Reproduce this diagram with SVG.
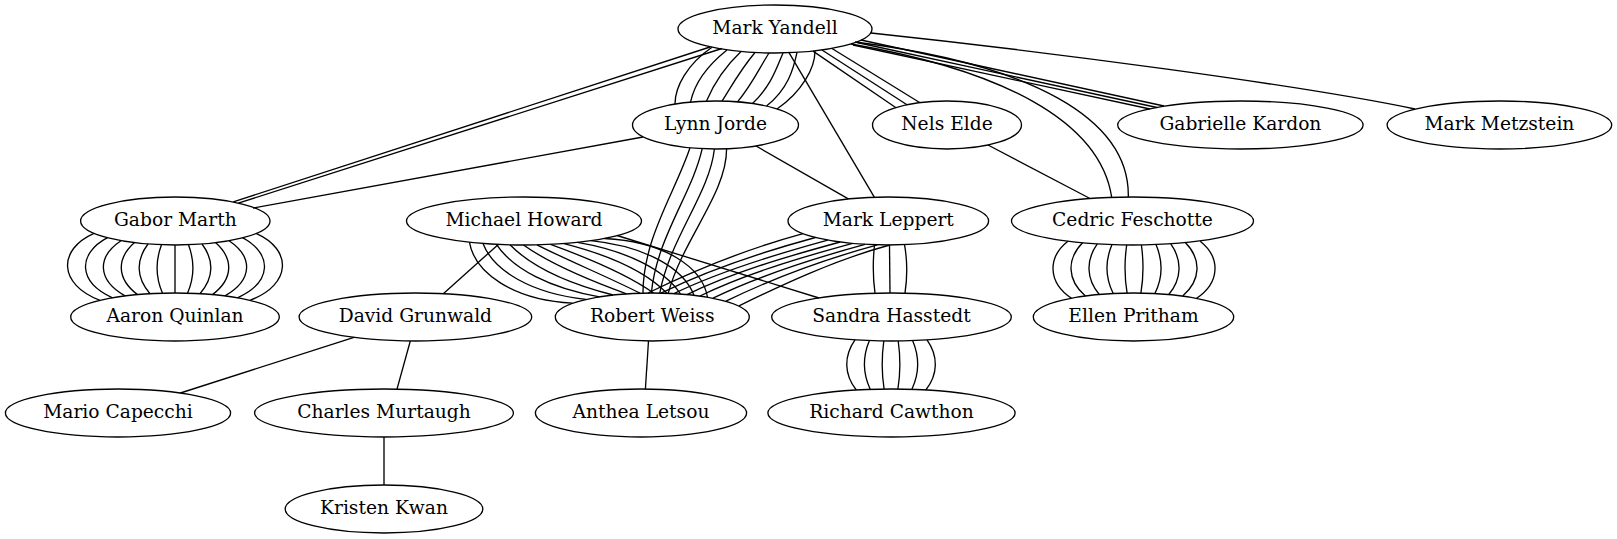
<svg xmlns="http://www.w3.org/2000/svg" width="1617" height="539" viewBox="0 0 1617 539">
<style>
.n ellipse{fill:none;stroke:#000;stroke-width:1.33}
.n text{font-family:"DejaVu Serif","Liberation Serif",serif;font-size:18.67px;text-anchor:middle;fill:#000}
#edges path{fill:none;stroke:#000;stroke-width:1.33}
</style>
<rect width="1617" height="539" fill="#fff"/>
<g id="edges">
<!-- Mark Yandell - Lynn Jorde x8 -->
<path d="M712,47.3 C687,64.3 675,87.1 675,104.1"/>
<path d="M727,49.9 C705.6,66.9 694.1,85.1 690.5,102.1"/>
<path d="M741,51.5 C723.1,68.5 713.6,84.1 706.5,101.1"/>
<path d="M755,52.5 C740.7,69.5 732.7,84.1 722,101.1"/>
<path d="M769,53 C758.3,70 751.8,84.9 737.5,101.9"/>
<path d="M783,52.9 C775.9,69.9 770.4,86.5 752.5,103.5"/>
<path d="M797,52.4 C793.4,69.4 787.9,89.1 766.5,106.1"/>
<path d="M815,50.9 C815,67.9 802,92 777,109"/>
<!-- Mark Yandell - Gabor Marth x2 -->
<path d="M710,47 L233.3,201.9"/>
<path d="M722,48.5 L238.3,203.1"/>
<!-- Mark Yandell - Mark Leppert -->
<path d="M789,52.7 L874.3,197.2"/>
<!-- Mark Yandell - Nels Elde x3 -->
<path d="M813,51.1 L896,107.7"/>
<path d="M822,50 L907,104.8"/>
<path d="M832,48.5 L920,102.7"/>
<!-- Mark Yandell - Gabrielle Kardon x3 -->
<path d="M861,40 L1164,106"/>
<path d="M857,42.5 L1157,107.5"/>
<path d="M853,45 L1150,109"/>
<!-- Mark Yandell - Cedric Feschotte x2 -->
<path d="M851,44 C1000,70 1100,120 1111.7,197.4"/>
<path d="M855,42 C1030,64 1130,118 1128.3,197"/>
<!-- Mark Yandell - Mark Metzstein -->
<path d="M871,33 C1050,52 1300,85 1415,109"/>
<!-- Nels Elde - Cedric Feschotte -->
<path d="M988,145 L1090,198.5"/>
<!-- Lynn Jorde - Gabor Marth -->
<path d="M643,137 L253,208"/>
<!-- Lynn Jorde - Mark Leppert -->
<path d="M756,146 L848.3,198.8"/>
<!-- Lynn Jorde - Robert Weiss x4 -->
<path d="M690,147.8 C675,192.8 643,238.1 643,293.1"/>
<path d="M702.2,148.7 C692.2,193.7 656.4,238 651.4,293"/>
<path d="M714.4,149 C709.4,194 669.8,238.1 659.8,293.1"/>
<path d="M726.6,148.8 C726.6,193.8 683.2,238.3 668.2,293.3"/>
<!-- Gabor Marth - Aaron Quinlan x13 -->
<path d="M94,233.3 C57.8,249.3 57.8,284.3 100,300.3"/>
<path d="M107.5,237.7 C77.4,253.7 77.4,281.8 112.5,297.8"/>
<path d="M121,240.7 C96.9,256.7 96.9,279.9 125,295.9"/>
<path d="M134.5,242.6 C116.4,258.6 116.4,278.6 137.5,294.6"/>
<path d="M148,244 C135.9,260 135.9,277.7 150,293.7"/>
<path d="M161.5,244.7 C155.5,260.7 155.5,277.2 162.5,293.2"/>
<path d="M175,245 L175,293"/>
<path d="M188.5,244.7 C194.5,260.7 194.5,277.2 187.5,293.2"/>
<path d="M202,244 C214.1,260 214.1,277.7 200,293.7"/>
<path d="M215.5,242.6 C233.6,258.6 233.6,278.6 212.5,294.6"/>
<path d="M229,240.7 C253.1,256.7 253.1,279.9 225,295.9"/>
<path d="M242.5,237.7 C272.6,253.7 272.6,281.8 237.5,297.8"/>
<path d="M256,233.3 C292.2,249.3 292.2,284.3 250,300.3"/>
<!-- Michael Howard - Robert Weiss x11 -->
<path d="M469.5,242.3 C474.5,272.3 512.5,300.1 572.5,303.1"/>
<path d="M483,243.5 C493.5,270.8 531.5,293.6 586,299.3"/>
<path d="M496.5,244.3 C512.5,268.9 550.5,288.4 599.5,296.8"/>
<path d="M510,244.8 C531.5,266.7 569.5,283.9 613,295"/>
<path d="M523.5,245 C550.5,264.2 588.5,280 626.5,293.8"/>
<path d="M537,244.8 C569.5,261.3 607.5,276.7 640,293.2"/>
<path d="M550.5,244.4 C588.5,258.2 626.5,273.8 653.5,293"/>
<path d="M564,243.6 C607.5,254.7 645.5,271.4 667,293.3"/>
<path d="M577.5,242.4 C626.5,250.8 664.5,269.4 680.5,294"/>
<path d="M591,240.7 C645.5,246.4 683.5,268 694,295.3"/>
<path d="M604.5,238.5 C664.5,241.5 702.5,267.2 707.5,297.2"/>
<!-- Michael Howard - David Grunwald -->
<path d="M498.3,244.4 L443.3,293.7"/>
<!-- Michael Howard - Sandra Hasstedt -->
<path d="M617,235.5 L819,298"/>
<!-- Mark Leppert - Robert Weiss x8 -->
<path d="M803,233.6 C748,248.6 693,271 648,293"/>
<path d="M815.4,237.5 C760.4,252.5 706,271.1 661,293.1"/>
<path d="M827.8,240.1 C772.8,255.1 719,271.6 674,293.6"/>
<path d="M840.2,242 C785.2,257 732,272.6 687,294.6"/>
<path d="M852.6,243.4 C797.6,258.4 745,274 700,296"/>
<path d="M865,244.4 C810,259.4 758,276.2 713,298.2"/>
<path d="M877.4,244.9 C822.4,259.9 771,279.2 726,301.2"/>
<path d="M889.8,245 C834.8,260 784,283.8 739,305.8"/>
<!-- Mark Leppert - Sandra Hasstedt x3 -->
<path d="M874.5,244.8 C872.8,260.8 872.8,277.2 875,293.2"/>
<path d="M889.5,245 L890,293"/>
<path d="M904.5,244.7 C907.4,260.7 907.4,277.2 905,293.2"/>
<!-- Cedric Feschotte - Ellen Pritham x10 -->
<path d="M1067.9,241.2 C1047.5,257.2 1047.5,282.3 1071.5,298.3"/>
<path d="M1082.6,242.8 C1066.7,258.8 1066.7,280 1085.4,296"/>
<path d="M1097.3,243.9 C1085.9,259.9 1085.9,278.5 1099.3,294.5"/>
<path d="M1112,244.6 C1105.2,260.6 1105.2,277.5 1113.2,293.5"/>
<path d="M1126.7,245 C1124.4,261 1124.4,277.1 1127.1,293.1"/>
<path d="M1141.4,245 C1143.6,261 1143.6,277.1 1140.9,293.1"/>
<path d="M1156,244.6 C1162.8,260.6 1162.8,277.5 1154.9,293.5"/>
<path d="M1170.8,243.9 C1182.1,259.9 1182.1,278.5 1168.8,294.5"/>
<path d="M1185.5,242.8 C1201.3,258.8 1201.3,280 1182.7,296"/>
<path d="M1200.2,241.2 C1220.5,257.2 1220.5,282.3 1196.6,298.3"/>
<!-- Sandra Hasstedt - Richard Cawthon x6 -->
<path d="M855,339.9 C843.8,355.9 843.8,374 856.3,390"/>
<path d="M869.4,340.6 C862.7,356.6 862.7,373.3 870.2,389.3"/>
<path d="M883.8,341 C881.6,357 881.6,373 884.1,389"/>
<path d="M898.2,341 C900.5,357 900.5,373 897.9,389"/>
<path d="M912.6,340.6 C919.4,356.6 919.4,373.3 911.9,389.3"/>
<path d="M927,339.9 C938.3,355.9 938.3,374 925.8,390"/>
<!-- David Grunwald - Mario Capecchi -->
<path d="M354,337.3 L180.4,393"/>
<!-- David Grunwald - Charles Murtaugh -->
<path d="M410.3,341 L397,389.1"/>
<!-- Charles Murtaugh - Kristen Kwan -->
<path d="M384,437 L384,485"/>
<!-- Robert Weiss - Anthea Letsou -->
<path d="M648.5,341 L645.4,389"/>
</g>
<g id="node-mark-yandell" class="n"><ellipse cx="775" cy="29" rx="97" ry="24"/><text x="775" y="34">Mark Yandell</text></g>
<g id="node-lynn-jorde" class="n"><ellipse cx="715.5" cy="125" rx="83" ry="24"/><text x="715.5" y="130">Lynn Jorde</text></g>
<g id="node-nels-elde" class="n"><ellipse cx="947" cy="125" rx="74.5" ry="24"/><text x="947" y="130">Nels Elde</text></g>
<g id="node-gabrielle-kardon" class="n"><ellipse cx="1240.4" cy="125" rx="122.7" ry="24"/><text x="1240.4" y="130">Gabrielle Kardon</text></g>
<g id="node-mark-metzstein" class="n"><ellipse cx="1499.4" cy="125" rx="112.3" ry="24"/><text x="1499.4" y="130">Mark Metzstein</text></g>
<g id="node-gabor-marth" class="n"><ellipse cx="175.3" cy="221" rx="94.7" ry="24"/><text x="175.3" y="226">Gabor Marth</text></g>
<g id="node-michael-howard" class="n"><ellipse cx="524" cy="221" rx="117.5" ry="24"/><text x="524" y="226">Michael Howard</text></g>
<g id="node-mark-leppert" class="n"><ellipse cx="888.3" cy="221" rx="100.3" ry="24"/><text x="888.3" y="226">Mark Leppert</text></g>
<g id="node-cedric-feschotte" class="n"><ellipse cx="1132.5" cy="221" rx="121" ry="24"/><text x="1132.5" y="226">Cedric Feschotte</text></g>
<g id="node-aaron-quinlan" class="n"><ellipse cx="175" cy="317" rx="104.3" ry="24"/><text x="175" y="322">Aaron Quinlan</text></g>
<g id="node-david-grunwald" class="n"><ellipse cx="415.4" cy="317" rx="116.3" ry="24"/><text x="415.4" y="322">David Grunwald</text></g>
<g id="node-robert-weiss" class="n"><ellipse cx="652.3" cy="317" rx="97" ry="24"/><text x="652.3" y="322">Robert Weiss</text></g>
<g id="node-sandra-hasstedt" class="n"><ellipse cx="891.5" cy="317" rx="119.8" ry="24"/><text x="891.5" y="322">Sandra Hasstedt</text></g>
<g id="node-ellen-pritham" class="n"><ellipse cx="1133.5" cy="317" rx="100.2" ry="24"/><text x="1133.5" y="322">Ellen Pritham</text></g>
<g id="node-mario-capecchi" class="n"><ellipse cx="118" cy="413" rx="112.6" ry="24"/><text x="118" y="418">Mario Capecchi</text></g>
<g id="node-charles-murtaugh" class="n"><ellipse cx="384" cy="413" rx="129.4" ry="24"/><text x="384" y="418">Charles Murtaugh</text></g>
<g id="node-anthea-letsou" class="n"><ellipse cx="641" cy="413" rx="105.6" ry="24"/><text x="641" y="418">Anthea Letsou</text></g>
<g id="node-richard-cawthon" class="n"><ellipse cx="891.5" cy="413" rx="123.6" ry="24"/><text x="891.5" y="418">Richard Cawthon</text></g>
<g id="node-kristen-kwan" class="n"><ellipse cx="384" cy="509" rx="98.8" ry="24"/><text x="384" y="514">Kristen Kwan</text></g>
</svg>
